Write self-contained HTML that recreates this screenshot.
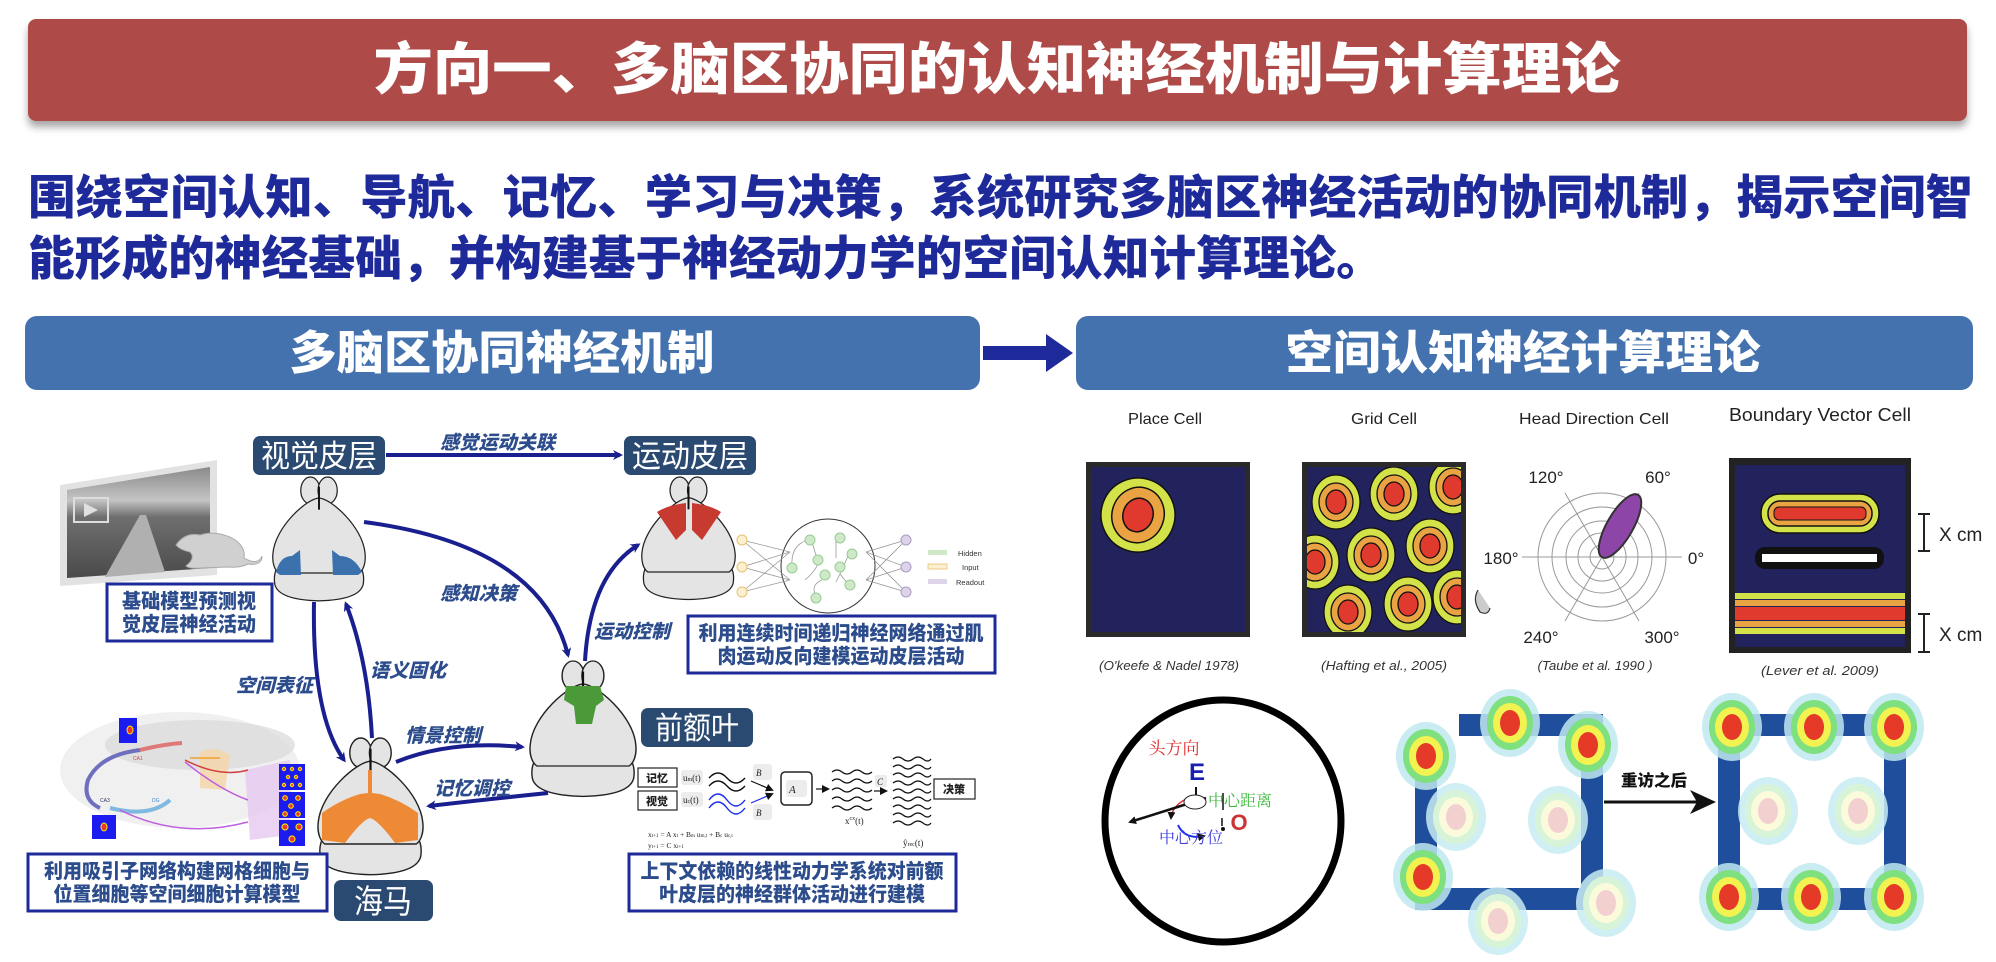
<!DOCTYPE html>
<html><head><meta charset="utf-8">
<style>
html,body{margin:0;padding:0;background:#fff;}
svg{display:block;}
.cjk{font-family:"Liberation Sans","Noto Sans CJK SC",sans-serif;}
</style></head>
<body>
<svg width="1996" height="962" viewBox="0 0 1996 962" xmlns="http://www.w3.org/2000/svg" class="cjk">
<defs>
  <marker id="ah" markerWidth="10" markerHeight="10" refX="7" refY="5" orient="auto" markerUnits="userSpaceOnUse">
    <path d="M0,0 L10,5 L0,10 L3,5 Z" fill="#1a1f8f"/>
  </marker>
  <marker id="ahk" markerWidth="8" markerHeight="8" refX="6" refY="4" orient="auto" markerUnits="userSpaceOnUse">
    <path d="M0,0 L8,4 L0,8 Z" fill="#111"/>
  </marker>
  <filter id="sh" x="-5%" y="-20%" width="110%" height="160%">
    <feDropShadow dx="0" dy="6" stdDeviation="4" flood-color="#000" flood-opacity="0.35"/>
  </filter>
  <linearGradient id="vid" x1="0" y1="0" x2="0" y2="1">
    <stop offset="0" stop-color="#8a8a8a"/><stop offset="0.3" stop-color="#c4c4c4"/><stop offset="0.45" stop-color="#6f6f6f"/><stop offset="1" stop-color="#4a4a4a"/>
  </linearGradient>
  <g id="brain">
    <ellipse cx="41" cy="14" rx="10" ry="14" fill="#e4e4e4" stroke="#222" stroke-width="1.3"/>
    <ellipse cx="59" cy="14" rx="10" ry="14" fill="#e4e4e4" stroke="#222" stroke-width="1.3"/>
    <path d="M8,92 L92,92 Q98,100 96,112 Q92,128 50,129 Q8,128 4,112 Q2,100 8,92 Z" fill="#e4e4e4" stroke="#222" stroke-width="1.3"/>
    <path d="M50,22 C38,22 4,52 2,80 C1,90 4,97 8,100 L92,100 C96,97 99,90 98,80 C96,52 62,22 50,22 Z" fill="#e4e4e4" stroke="#222" stroke-width="1.3"/>
    <path d="M50,10 L50,34" stroke="#111" stroke-width="2"/>
  </g>
  <clipPath id="cpP"><rect x="1091" y="467" width="154" height="165"/></clipPath>
  <clipPath id="cpG"><rect x="1307" y="467" width="154" height="165"/></clipPath>
</defs>

<!-- Title bar -->
<rect x="28" y="19" width="1939" height="102" rx="8" fill="#ae4b48" filter="url(#sh)"/>
<text x="997" y="89" text-anchor="middle" fill="#fff" font-size="56" font-weight="900" textLength="1247" lengthAdjust="spacingAndGlyphs">方向一、多脑区协同的认知神经机制与计算理论</text>

<!-- Subtitle -->
<text x="28" y="214" fill="#1f2a9a" font-size="47" font-weight="900" textLength="1945" lengthAdjust="spacingAndGlyphs">围绕空间认知、导航、记忆、学习与决策，系统研究多脑区神经活动的协同机制，揭示空间智</text>
<text x="28" y="275" fill="#1f2a9a" font-size="47" font-weight="900" textLength="1355" lengthAdjust="spacingAndGlyphs">能形成的神经基础，并构建基于神经动力学的空间认知计算理论。</text>

<!-- Section headers -->
<rect x="25" y="316" width="955" height="74" rx="12" fill="#4372ae"/>
<text x="502" y="369" text-anchor="middle" fill="#fff" font-size="46" font-weight="900" textLength="425" lengthAdjust="spacingAndGlyphs">多脑区协同神经机制</text>
<rect x="1076" y="316" width="897" height="74" rx="12" fill="#4372ae"/>
<text x="1523" y="369" text-anchor="middle" fill="#fff" font-size="46" font-weight="900" textLength="475" lengthAdjust="spacingAndGlyphs">空间认知神经计算理论</text>
<path d="M983,346 L1046,346 L1046,334 L1073,353 L1046,372 L1046,360 L983,360 Z" fill="#1f2a9a"/>

<!-- ============ LEFT DIAGRAM ============ -->
<rect x="253" y="436" width="132" height="39" rx="7" fill="#2b4a72"/>
<text x="319" y="467" text-anchor="middle" fill="#fff" font-size="31" textLength="116" lengthAdjust="spacingAndGlyphs">视觉皮层</text>
<rect x="624" y="436" width="132" height="39" rx="7" fill="#2b4a72"/>
<text x="690" y="467" text-anchor="middle" fill="#fff" font-size="31" textLength="116" lengthAdjust="spacingAndGlyphs">运动皮层</text>
<rect x="641" y="708" width="112" height="39" rx="7" fill="#2b4a72"/>
<text x="697" y="739" text-anchor="middle" fill="#fff" font-size="31" textLength="84" lengthAdjust="spacingAndGlyphs">前额叶</text>
<rect x="334" y="880" width="99" height="41" rx="7" fill="#2b4a72"/>
<text x="383" y="913" text-anchor="middle" fill="#fff" font-size="33" textLength="58" lengthAdjust="spacingAndGlyphs">海马</text>

<!-- Video screen -->
<polygon points="60,485 217,460 217,575 60,586" fill="#e2e2e2"/>
<polygon points="67,490 210,467 210,568 67,578" fill="url(#vid)"/>
<path d="M105,577 L140,515 L146,515 L165,572 Z" fill="#b0b0b0"/>
<rect x="74" y="498" width="34" height="24" fill="none" stroke="#ddd" stroke-width="2"/>
<polygon points="84,503 84,517 98,510" fill="#e0e0e0"/>
<!-- mouse -->
<path d="M176,545 Q185,532 200,535 Q215,530 232,538 Q246,546 244,558 Q258,566 262,556 Q262,566 248,564 Q240,568 228,567 L200,568 Q190,569 186,566 Q196,558 190,552 Q180,550 176,545 Z" fill="#d0d0d0" stroke="#aaa" stroke-width="1"/>

<!-- Brain 1 visual -->
<use href="#brain" transform="translate(271,477) scale(0.96,0.96)"/>
<path d="M276,572 Q280,556 292,556 L300,550 L301,575 L280,575 Z" fill="#3b72ad"/>
<path d="M332,550 L340,556 Q354,556 362,572 L358,575 L333,575 Z" fill="#3b72ad"/>

<!-- Brain 2 motor -->
<use href="#brain" transform="translate(640,477) scale(0.97,0.95)"/>
<path d="M657,512 Q668,505 686,503 L686,530 L676,540 Z M721,512 Q710,505 692,503 L692,530 L702,540 Z" fill="#c73a2f"/>

<!-- Brain 3 PFC -->
<use href="#brain" transform="translate(528,661) scale(1.1,1.05)"/>
<path d="M566,686 L600,686 L604,700 L596,706 L592,724 L576,724 L574,706 L564,700 Z" fill="#4a9a3a"/>

<!-- Brain 4 hippocampus -->
<use href="#brain" transform="translate(316,738) scale(1.09,1.06)"/>
<path d="M322,813 Q340,800 360,794 L368,793 L368,770 L372,770 L372,793 L380,794 Q400,800 418,813 L418,840 L395,843 Q378,820 370,818 Q362,820 345,843 L322,840 Z" fill="#ee8a36"/>

<!-- Hippocampus figure -->
<ellipse cx="180" cy="770" rx="120" ry="58" fill="#ececec" opacity="0.8"/>
<ellipse cx="200" cy="745" rx="95" ry="25" fill="#d8d8d8" opacity="0.7"/>
<path d="M245,770 L290,760 L290,835 L250,840 Z" fill="#e6c8f0" opacity="0.8"/>
<path d="M200,752 Q215,745 230,755 L225,790 L200,788 Z" fill="#f5d6a8" opacity="0.8"/>
<path d="M140,750 Q100,755 88,780 Q82,800 100,808" fill="none" stroke="#6f6fc0" stroke-width="4"/>
<path d="M140,750 Q165,744 182,743" fill="none" stroke="#e07878" stroke-width="4"/>
<path d="M110,808 Q150,818 170,800" fill="none" stroke="#7fb8e0" stroke-width="4"/>
<path d="M185,760 Q220,778 248,770" fill="none" stroke="#d04040" stroke-width="1.5"/>
<path d="M185,762 Q220,790 248,800" fill="none" stroke="#c060e0" stroke-width="1.5"/>
<path d="M120,810 Q180,840 248,822" fill="none" stroke="#c060e0" stroke-width="1.5"/>
<path d="M190,758 L220,758" fill="none" stroke="#f0a030" stroke-width="1.5"/>
<text x="133" y="760" font-size="5" fill="#c44">CA1</text>
<text x="100" y="802" font-size="5" fill="#336">CA3</text>
<text x="152" y="802" font-size="5" fill="#48c">DG</text>
<rect x="119" y="718" width="18" height="25" fill="#1b1bf0"/>
<ellipse cx="130" cy="730" rx="3" ry="4" fill="#e33" stroke="#ee0" stroke-width="1"/>
<rect x="92" y="815" width="24" height="24" fill="#1b1bf0"/>
<ellipse cx="104" cy="827" rx="3" ry="4" fill="#e33" stroke="#ee0" stroke-width="1"/>
<g>
<rect x="279" y="764" width="26" height="26" fill="#1b1bf0"/>
<rect x="279" y="792" width="26" height="26" fill="#1b1bf0"/>
<rect x="279" y="820" width="26" height="26" fill="#1b1bf0"/>
<g fill="#e33" stroke="#eee000" stroke-width="1.2">
<circle cx="284" cy="769" r="1.6"/><circle cx="292" cy="769" r="1.6"/><circle cx="300" cy="769" r="1.6"/>
<circle cx="288" cy="777" r="1.6"/><circle cx="296" cy="777" r="1.6"/><circle cx="284" cy="785" r="1.6"/><circle cx="292" cy="785" r="1.6"/><circle cx="300" cy="785" r="1.6"/>
<circle cx="285" cy="798" r="2.3"/><circle cx="298" cy="798" r="2.3"/><circle cx="291" cy="806" r="2.3"/><circle cx="285" cy="814" r="2.3"/><circle cx="298" cy="814" r="2.3"/>
<circle cx="285" cy="827" r="3"/><circle cx="299" cy="827" r="3"/><circle cx="292" cy="839" r="3"/>
</g></g>

<!-- Boxes left -->
<rect x="107" y="584" width="165" height="57" fill="#fff" stroke="#1e2a9a" stroke-width="3"/>
<text x="189" y="608" text-anchor="middle" fill="#2c4c8c" font-size="20" font-weight="900" textLength="134" lengthAdjust="spacingAndGlyphs">基础模型预测视</text>
<text x="189" y="631" text-anchor="middle" fill="#2c4c8c" font-size="20" font-weight="900" textLength="134" lengthAdjust="spacingAndGlyphs">觉皮层神经活动</text>

<rect x="688" y="616" width="307" height="57" fill="#fff" stroke="#1e2a9a" stroke-width="3"/>
<text x="841" y="640" text-anchor="middle" fill="#2c4c8c" font-size="20" font-weight="900" textLength="285" lengthAdjust="spacingAndGlyphs">利用连续时间递归神经网络通过肌</text>
<text x="841" y="663" text-anchor="middle" fill="#2c4c8c" font-size="20" font-weight="900" textLength="247" lengthAdjust="spacingAndGlyphs">肉运动反向建模运动皮层活动</text>

<rect x="28" y="854" width="299" height="57" fill="#fff" stroke="#1e2a9a" stroke-width="3"/>
<text x="177" y="878" text-anchor="middle" fill="#2c4c8c" font-size="20" font-weight="900" textLength="266" lengthAdjust="spacingAndGlyphs">利用吸引子网络构建网格细胞与</text>
<text x="177" y="901" text-anchor="middle" fill="#2c4c8c" font-size="20" font-weight="900" textLength="247" lengthAdjust="spacingAndGlyphs">位置细胞等空间细胞计算模型</text>

<rect x="629" y="854" width="327" height="57" fill="#fff" stroke="#1e2a9a" stroke-width="3"/>
<text x="792" y="878" text-anchor="middle" fill="#2c4c8c" font-size="20" font-weight="900" textLength="303" lengthAdjust="spacingAndGlyphs">上下文依赖的线性动力学系统对前额</text>
<text x="792" y="901" text-anchor="middle" fill="#2c4c8c" font-size="20" font-weight="900" textLength="266" lengthAdjust="spacingAndGlyphs">叶皮层的神经群体活动进行建模</text>

<!-- Arrows -->
<g fill="none" stroke="#1a1f8f" stroke-width="4" marker-end="url(#ah)">
  <path d="M386,455 L620,455"/>
  <path d="M364,522 Q540,545 568,655"/>
  <path d="M585,661 Q590,575 638,545"/>
  <path d="M314,602 Q312,715 344,760"/>
  <path d="M372,738 Q368,660 346,604"/>
  <path d="M396,762 Q450,740 522,747"/>
  <path d="M548,793 Q480,800 429,806"/>
</g>
<g fill="#2c4c8c" font-size="19" font-weight="900" font-style="italic">
  <text x="440" y="449" textLength="115" lengthAdjust="spacingAndGlyphs">感觉运动关联</text>
  <text x="440" y="600" textLength="77" lengthAdjust="spacingAndGlyphs">感知决策</text>
  <text x="594" y="638" textLength="76" lengthAdjust="spacingAndGlyphs">运动控制</text>
  <text x="236" y="692" textLength="77" lengthAdjust="spacingAndGlyphs">空间表征</text>
  <text x="370" y="677" textLength="76" lengthAdjust="spacingAndGlyphs">语义固化</text>
  <text x="405" y="742" textLength="76" lengthAdjust="spacingAndGlyphs">情景控制</text>
  <text x="434" y="795" textLength="76" lengthAdjust="spacingAndGlyphs">记忆调控</text>
</g>

<!-- RNN network -->
<circle cx="828" cy="566" r="47" fill="#fff" stroke="#333" stroke-width="1"/>
<g stroke="#999" stroke-width="0.8" fill="none">
  <path d="M742,540 L790,552 M742,540 L790,580 M742,567 L790,552 M742,567 L790,580 M742,592 L790,552 M742,592 L790,580"/>
  <path d="M866,552 L906,540 M866,552 L906,567 M866,552 L906,592 M866,580 L906,540 M866,580 L906,592 M866,580 L906,567"/>
  <path d="M792,568 Q790,545 808,540 M812,542 Q816,556 818,560 M836,538 L836,558 M848,556 Q842,570 836,582 M805,580 Q815,572 820,560 M816,596 Q810,585 822,580 M840,574 L848,584"/>
</g>
<g fill="#cfe8c8" stroke="#9c9" stroke-width="1">
  <circle cx="792" cy="568" r="5"/><circle cx="810" cy="540" r="5"/><circle cx="818" cy="560" r="5"/><circle cx="840" cy="538" r="5"/>
  <circle cx="852" cy="554" r="5"/><circle cx="840" cy="567" r="5"/><circle cx="825" cy="575" r="5"/><circle cx="850" cy="585" r="5"/><circle cx="816" cy="598" r="5"/>
</g>
<g fill="#fbf0d0" stroke="#e8c070" stroke-width="1"><circle cx="742" cy="540" r="5"/><circle cx="742" cy="567" r="5"/><circle cx="742" cy="592" r="5"/></g>
<g fill="#ddd4ea" stroke="#a99cc8" stroke-width="1"><circle cx="906" cy="540" r="5"/><circle cx="906" cy="567" r="5"/><circle cx="906" cy="592" r="5"/></g>
<rect x="928" y="550" width="19" height="5" fill="#cfe8c8"/><rect x="928" y="564" width="19" height="5" fill="#fbf0d0" stroke="#e8c070" stroke-width="0.8"/><rect x="928" y="579" width="19" height="5" fill="#ddd4ea"/>
<g font-size="7.5" fill="#333" font-family="Liberation Sans, sans-serif"><text x="958" y="556">Hidden</text><text x="962" y="570">Input</text><text x="956" y="585">Readout</text></g>

<!-- Dynamics diagram -->
<g font-family="Liberation Serif, serif" fill="#222">
<rect x="638" y="768" width="39" height="19" fill="#fff" stroke="#222" stroke-width="1.2"/>
<text x="657" y="782" text-anchor="middle" font-size="11" font-weight="900" class="cjk">记忆</text>
<rect x="638" y="791" width="39" height="19" fill="#fff" stroke="#222" stroke-width="1.2"/>
<text x="657" y="805" text-anchor="middle" font-size="11" font-weight="900" class="cjk">视觉</text>
<rect x="681" y="770" width="22" height="15" rx="3" fill="#ececec"/><text x="683" y="781" font-size="9">u<tspan font-size="6">m</tspan>(t)</text>
<rect x="681" y="792" width="22" height="15" rx="3" fill="#ececec"/><text x="683" y="803" font-size="9">u<tspan font-size="6">c</tspan>(t)</text>
<path d="M709,778 q9,-10 18,0 t18,0 M709,786 q9,-10 18,0 t18,0" fill="none" stroke="#111" stroke-width="1.4"/>
<path d="M709,800 q9,-12 18,0 t18,0 M709,808 q9,-12 18,0 t18,0" fill="none" stroke="#1a2ef0" stroke-width="1.4"/>
<rect x="753" y="764" width="19" height="16" rx="3" fill="#ececec"/><text x="756" y="776" font-size="9" font-style="italic">B</text>
<rect x="753" y="804" width="19" height="16" rx="3" fill="#ececec"/><text x="756" y="816" font-size="9" font-style="italic">B</text>
<path d="M751,781 L772,790" stroke="#111" stroke-width="1.2" marker-end="url(#ahk)"/>
<path d="M751,803 L772,794" stroke="#1a2ef0" stroke-width="1.2" marker-end="url(#ahk)"/>
<rect x="781" y="772" width="31" height="33" rx="4" fill="#fff" stroke="#222" stroke-width="1.5"/>
<rect x="786" y="780" width="21" height="17" rx="3" fill="#ececec"/><text x="789" y="793" font-size="11" font-style="italic">A</text>
<path d="M816,789 L828,789" stroke="#111" stroke-width="1.2" marker-end="url(#ahk)"/>
<path d="M832,772 q5,-4 10,0 t10,0 t10,0 t10,0 M832,781 q5,-4 10,0 t10,0 t10,0 t10,0 M832,790 q5,-4 10,0 t10,0 t10,0 t10,0 M832,799 q5,-4 10,0 t10,0 t10,0 t10,0 M832,808 q5,-4 10,0 t10,0 t10,0 t10,0" fill="none" stroke="#111" stroke-width="1.2"/>
<rect x="875" y="775" width="12" height="12" rx="2" fill="#ececec"/><text x="877" y="785" font-size="9" font-style="italic">C</text>
<path d="M874,791 L886,791" stroke="#111" stroke-width="1.2" marker-end="url(#ahk)"/>
<path d="M893,759 q5,-4 10,0 t10,0 t10,0 t8,0 M893,767 q5,-4 10,0 t10,0 t10,0 t8,0 M893,775 q5,-4 10,0 t10,0 t10,0 t8,0 M893,783 q5,-4 10,0 t10,0 t10,0 t8,0 M893,791 q5,-4 10,0 t10,0 t10,0 t8,0 M893,799 q5,-4 10,0 t10,0 t10,0 t8,0 M893,807 q5,-4 10,0 t10,0 t10,0 t8,0 M893,815 q5,-4 10,0 t10,0 t10,0 t8,0 M893,823 q5,-4 10,0 t10,0 t10,0 t8,0" fill="none" stroke="#111" stroke-width="1.2"/>
<rect x="934" y="779" width="41" height="20" fill="#fff" stroke="#222" stroke-width="1.2"/>
<text x="954" y="793" text-anchor="middle" font-size="11" font-weight="900" class="cjk">决策</text>
<text x="845" y="824" font-size="9">x<tspan font-size="6" dy="-4">cx</tspan><tspan dy="4">(t)</tspan></text>
<text x="648" y="837" font-size="7.5">x<tspan font-size="5">t+1</tspan> = A x<tspan font-size="5">t</tspan> + B<tspan font-size="5">m</tspan> u<tspan font-size="5">m,t</tspan> + B<tspan font-size="5">c</tspan> u<tspan font-size="5">c,t</tspan></text>
<text x="648" y="848" font-size="7.5">y<tspan font-size="5">t+1</tspan> = C x<tspan font-size="5">t+1</tspan></text>
<text x="903" y="846" font-size="9">ŷ<tspan font-size="6">rec</tspan>(t)</text>
</g>

<!-- ============ RIGHT SIDE ============ -->
<g font-family="Liberation Sans, sans-serif" fill="#222" font-size="16">
  <text x="1165" y="424" text-anchor="middle" textLength="74" lengthAdjust="spacingAndGlyphs">Place Cell</text>
  <text x="1384" y="424" text-anchor="middle" textLength="66" lengthAdjust="spacingAndGlyphs">Grid Cell</text>
  <text x="1594" y="424" text-anchor="middle" textLength="150" lengthAdjust="spacingAndGlyphs">Head Direction Cell</text>
  <text x="1820" y="421" text-anchor="middle" font-size="18" textLength="182" lengthAdjust="spacingAndGlyphs">Boundary Vector Cell</text>
</g>

<rect x="1086" y="462" width="164" height="175" fill="#2a2a2a"/>
<rect x="1091" y="467" width="154" height="165" fill="#22235c"/>
<g clip-path="url(#cpP)" stroke="#111" stroke-width="1.5">
<ellipse cx="1138" cy="515" rx="37" ry="37" fill="#d4e24a" transform="rotate(20 1138 515)"/>
<ellipse cx="1138" cy="515" rx="26" ry="28" fill="#e9a342" transform="rotate(20 1138 515)"/>
<ellipse cx="1138" cy="515" rx="15" ry="17" fill="#e03a2e" transform="rotate(20 1138 515)"/>
</g>

<rect x="1302" y="462" width="164" height="175" fill="#2a2a2a"/>
<rect x="1307" y="467" width="154" height="165" fill="#22235c"/>
<g clip-path="url(#cpG)" stroke="#111" stroke-width="1.3">
  <g id="gb1"><ellipse cx="1336" cy="502" rx="24" ry="27" fill="#d4e24a"/><ellipse cx="1336" cy="502" rx="17" ry="19" fill="#e9a342"/><ellipse cx="1336" cy="502" rx="10" ry="12" fill="#e03a2e"/></g>
  <use href="#gb1" x="58" y="-8"/><use href="#gb1" x="117" y="-15"/>
  <use href="#gb1" x="-21" y="60"/><use href="#gb1" x="35" y="53"/><use href="#gb1" x="94" y="44"/>
  <use href="#gb1" x="12" y="110"/><use href="#gb1" x="72" y="102"/><use href="#gb1" x="121" y="95"/>
</g>
<path d="M1478,590 Q1472,600 1480,612 Q1488,616 1490,608" fill="#ccc" stroke="#333" stroke-width="1.2"/>

<g fill="none" stroke="#999" stroke-width="1">
  <circle cx="1602" cy="557" r="12"/><circle cx="1602" cy="557" r="24"/><circle cx="1602" cy="557" r="36"/><circle cx="1602" cy="557" r="50"/><circle cx="1602" cy="557" r="64"/>
  <path d="M1522,557 L1682,557 M1565,493 L1639,621 M1639,493 L1565,621"/>
</g>
<ellipse cx="1620" cy="526" rx="36" ry="13" fill="#8e45a8" stroke="#333" stroke-width="2" transform="rotate(-60 1620 526)"/>
<g font-family="Liberation Sans, sans-serif" font-size="17" fill="#222">
  <text x="1546" y="483" text-anchor="middle">120°</text><text x="1658" y="483" text-anchor="middle">60°</text>
  <text x="1501" y="564" text-anchor="middle">180°</text><text x="1696" y="564" text-anchor="middle">0°</text>
  <text x="1541" y="643" text-anchor="middle">240°</text><text x="1662" y="643" text-anchor="middle">300°</text>
</g>

<rect x="1729" y="458" width="182" height="195" fill="#222"/>
<rect x="1735" y="465" width="170" height="182" fill="#22235c"/>
<rect x="1761" y="494" width="118" height="39" rx="19" fill="#d4e24a" stroke="#111" stroke-width="1.5"/>
<rect x="1768" y="501" width="104" height="25" rx="12" fill="#e9a342" stroke="#111" stroke-width="1.5"/>
<rect x="1774" y="507" width="92" height="13" rx="5" fill="#e03a2e" stroke="#111" stroke-width="1"/>
<rect x="1755" y="547" width="129" height="22" rx="10" fill="#111"/>
<rect x="1762" y="554" width="115" height="8" fill="#fff"/>
<rect x="1735" y="593" width="170" height="6" fill="#d4e24a"/>
<rect x="1735" y="600" width="170" height="6" fill="#e9a342"/>
<rect x="1735" y="607" width="170" height="13" fill="#e03a2e"/>
<rect x="1735" y="621" width="170" height="6" fill="#e9a342"/>
<rect x="1735" y="628" width="170" height="6" fill="#d4e24a"/>
<g stroke="#222" stroke-width="2"><path d="M1924,514 L1924,551 M1918,514 L1930,514 M1918,551 L1930,551"/><path d="M1924,614 L1924,652 M1918,614 L1930,614 M1918,652 L1930,652"/></g>
<g font-family="Liberation Sans, sans-serif" font-size="19" fill="#222"><text x="1939" y="541">X cm</text><text x="1939" y="641">X cm</text></g>

<g font-family="Liberation Sans, sans-serif" font-size="13" font-style="italic" fill="#333">
  <text x="1169" y="670" text-anchor="middle" textLength="140" lengthAdjust="spacingAndGlyphs">(O'keefe &amp; Nadel 1978)</text>
  <text x="1384" y="670" text-anchor="middle" textLength="126" lengthAdjust="spacingAndGlyphs">(Hafting et al., 2005)</text>
  <text x="1595" y="670" text-anchor="middle" textLength="115" lengthAdjust="spacingAndGlyphs">(Taube et al. 1990 )</text>
  <text x="1820" y="675" text-anchor="middle" textLength="118" lengthAdjust="spacingAndGlyphs">(Lever et al. 2009)</text>
</g>

<ellipse cx="1223" cy="821" rx="118" ry="121" fill="none" stroke="#000" stroke-width="7"/>
<path d="M1196,787 L1196,795 M1196,800 L1196,808" stroke="#111" stroke-width="2"/>
<text x="1174" y="754" text-anchor="middle" font-size="17" fill="#e03030" font-family="'Noto Serif CJK SC', serif">头方向</text>
<text x="1197" y="780" text-anchor="middle" font-size="24" font-weight="bold" fill="#1a1fb0" font-family="Liberation Sans, sans-serif">E</text>
<path d="M1190,797 Q1172,805 1171,818" fill="none" stroke="#e03030" stroke-width="1.5" marker-end="url(#ahk)"/>
<path d="M1206,798 L1130,822" stroke="#111" stroke-width="2.5" marker-end="url(#ahk)"/>
<ellipse cx="1195" cy="802" rx="11" ry="7" fill="#fff" stroke="#222" stroke-width="1"/>
<path d="M1178,825 Q1185,840 1204,836" fill="none" stroke="#1a2ef0" stroke-width="2" marker-end="url(#ahk)"/>
<path d="M1223,793 L1223,810 M1222,818 L1222,826" stroke="#111" stroke-width="1.5"/>
<circle cx="1223" cy="829" r="2" fill="#111"/>
<text x="1240" y="806" text-anchor="middle" font-size="16" fill="#3cb83c" font-family="'Noto Serif CJK SC', serif">中心距离</text>
<text x="1239" y="830" text-anchor="middle" font-size="22" font-weight="bold" fill="#cc3333" font-family="Liberation Sans, sans-serif">O</text>
<text x="1191" y="843" text-anchor="middle" font-size="16" fill="#3a3ae0" font-family="'Noto Serif CJK SC', serif">中心方位</text>

<defs>
  <g id="bR"><ellipse cx="0" cy="0" rx="30" ry="34" fill="#bfe8f0" opacity="0.85"/><ellipse cx="0" cy="0" rx="23" ry="27" fill="#7ee07e"/><ellipse cx="0" cy="0" rx="17" ry="20" fill="#f2f250"/><ellipse cx="0" cy="0" rx="10" ry="13" fill="#e63a28"/></g>
  <g id="bP"><ellipse cx="0" cy="0" rx="30" ry="34" fill="#c8ecf2" opacity="0.85"/><ellipse cx="0" cy="0" rx="23" ry="27" fill="#d8f4d8"/><ellipse cx="0" cy="0" rx="17" ry="20" fill="#fbfbdc"/><ellipse cx="0" cy="0" rx="10" ry="13" fill="#f3d0d0"/></g>
</defs>
<g fill="#1f4e9c">
  <rect x="1459" y="714" width="144" height="22"/>
  <rect x="1415" y="743" width="22" height="167"/>
  <rect x="1581" y="714" width="22" height="196"/>
  <rect x="1415" y="888" width="188" height="22"/>
</g>
<use href="#bR" x="1510" y="723"/><use href="#bR" x="1588" y="745"/><use href="#bR" x="1426" y="756"/>
<use href="#bP" x="1456" y="817"/><use href="#bP" x="1558" y="820"/><use href="#bR" x="1423" y="877"/>
<use href="#bP" x="1606" y="903"/><use href="#bP" x="1498" y="921"/>

<path d="M1604,802 L1712,802" stroke="#111" stroke-width="3" marker-end="url(#ahk)"/>
<path d="M1690,790 L1716,802 L1690,814 L1697,802 Z" fill="#111"/>
<text x="1654" y="786" text-anchor="middle" font-size="16" font-weight="900" fill="#111" textLength="66" lengthAdjust="spacingAndGlyphs">重访之后</text>

<g fill="#1f4e9c">
  <rect x="1718" y="714" width="188" height="22"/>
  <rect x="1718" y="714" width="22" height="196"/>
  <rect x="1884" y="714" width="22" height="196"/>
  <rect x="1718" y="888" width="188" height="22"/>
</g>
<use href="#bR" x="1732" y="727"/><use href="#bR" x="1814" y="727"/><use href="#bR" x="1894" y="727"/>
<use href="#bP" x="1768" y="811"/><use href="#bP" x="1858" y="811"/>
<use href="#bR" x="1729" y="897"/><use href="#bR" x="1811" y="897"/><use href="#bR" x="1894" y="897"/>
</svg>
</body></html>
